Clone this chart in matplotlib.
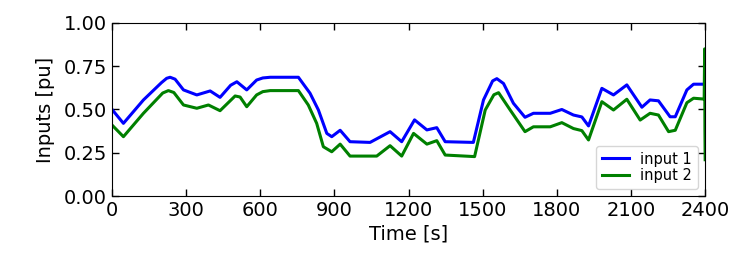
"""Two input signals (pu) over a 2400 s run."""

import matplotlib

matplotlib.use("Agg")
import matplotlib.pyplot as plt
import numpy as np

# input 1 (blue)
t1 = [0, 46, 127, 200, 221, 235, 255, 289, 343, 397, 437, 480, 505, 545,
      585, 610, 640, 754, 801, 835, 869, 889, 923, 963, 1044, 1125, 1172,
      1224, 1274, 1314, 1348, 1462, 1503, 1540, 1557, 1584, 1624, 1671,
      1705, 1773, 1820, 1867, 1901, 1928, 1982, 2029, 2083, 2144, 2177,
      2211, 2258, 2279, 2326, 2353, 2400]
v1 = [0.50, 0.42, 0.555, 0.655, 0.68, 0.686, 0.675, 0.613, 0.584, 0.607,
      0.57, 0.64, 0.66, 0.613, 0.67, 0.682, 0.686, 0.686, 0.594, 0.497,
      0.362, 0.343, 0.38, 0.314, 0.31, 0.372, 0.314, 0.44, 0.382, 0.395,
      0.314, 0.31, 0.555, 0.665, 0.678, 0.65, 0.536, 0.455, 0.478, 0.478,
      0.50, 0.468, 0.457, 0.405, 0.622, 0.584, 0.642, 0.513, 0.555, 0.55,
      0.458, 0.458, 0.613, 0.646, 0.646]

# input 2 (green), ends with a spike at the last samples
t2 = [0, 46, 127, 205, 228, 250, 289, 343, 390, 437, 498, 518, 545, 585,
      610, 640, 754, 794, 828, 855, 889, 923, 963, 1071, 1125, 1172, 1220,
      1274, 1314, 1348, 1467, 1510, 1545, 1564, 1611, 1671, 1705, 1773,
      1820, 1867, 1901, 1928, 1982, 2029, 2083, 2137, 2177, 2211, 2252,
      2279, 2326, 2353, 2396, 2398, 2399, 2400]
v2 = [0.41, 0.343, 0.478, 0.595, 0.609, 0.598, 0.526, 0.507, 0.526, 0.493,
      0.578, 0.572, 0.516, 0.584, 0.603, 0.609, 0.609, 0.526, 0.42, 0.285,
      0.256, 0.30, 0.231, 0.231, 0.291, 0.231, 0.362, 0.30, 0.32, 0.237,
      0.228, 0.497, 0.585, 0.597, 0.497, 0.372, 0.40, 0.40, 0.424, 0.39,
      0.378, 0.324, 0.545, 0.497, 0.559, 0.439, 0.478, 0.468, 0.372, 0.38,
      0.539, 0.565, 0.56, 0.85, 0.38, 0.21]

x_ticks = np.arange(0, 2401, 300)
y_ticks = [0.0, 0.25, 0.5, 0.75, 1.0]

plt.rcParams["font.family"] = "DejaVu Sans"

fig = plt.figure(figsize=(7.47, 2.69), dpi=100)
ax = fig.add_axes([0.150, 0.271, 0.794, 0.644])

ax.plot(t1, v1, color="blue", linewidth=2.2, label="input 1")
ax.plot(t2, v2, color="green", linewidth=2.2, label="input 2")

ax.set_xlim(0, 2400)
ax.set_ylim(0, 1)
ax.set_xticks(x_ticks)
ax.set_yticks(y_ticks)
ax.yaxis.set_major_formatter(matplotlib.ticker.FormatStrFormatter("%.2f"))
ax.tick_params(direction="in", top=True, right=True, labelsize=14,
               length=5, width=1)
ax.set_xlabel("Time [s]", fontsize=14, labelpad=3)
ax.set_ylabel("Inputs [pu]", fontsize=14, labelpad=6)

ax.legend(loc="lower right", fontsize=10.5, handlelength=1.8,
          labelspacing=0.1, borderpad=0.4, handletextpad=0.8)

fig.savefig("out.png", dpi=100, facecolor="white")
